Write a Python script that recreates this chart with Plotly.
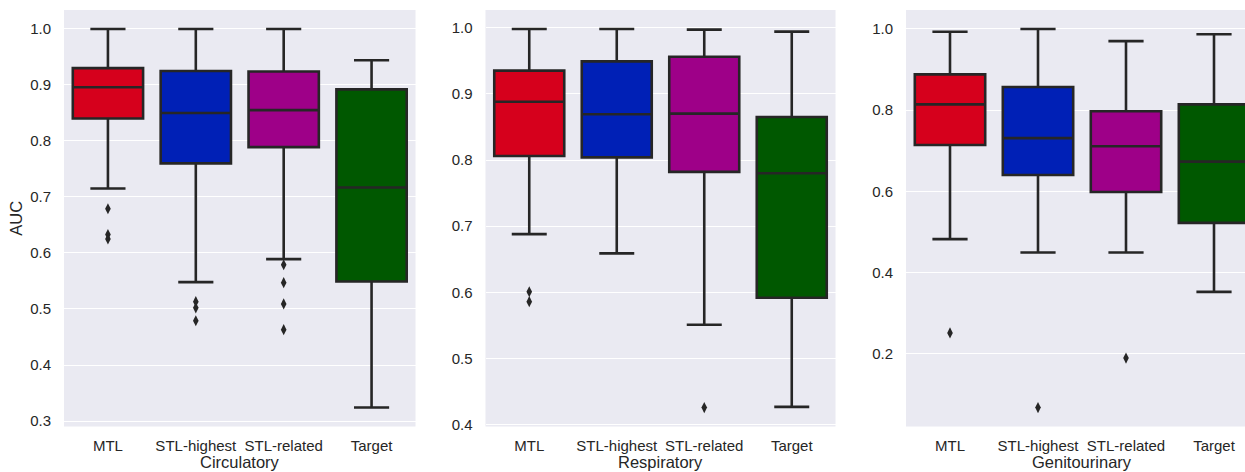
import plotly.graph_objects as go

# Model variants compared within each disease group
categories = ["MTL", "STL-highest", "STL-related", "Target"]
groups = ["Circulatory", "Respiratory", "Genitourinary"]
box_colors = ["#D6001C", "#0020B6", "#9E0088", "#005800"]

# Circulatory: box statistics and outliers (AUC)
circ_q1 = [0.840, 0.760, 0.789, 0.549]
circ_median = [0.896, 0.850, 0.855, 0.717]
circ_q3 = [0.930, 0.925, 0.924, 0.892]
circ_lower = [0.715, 0.548, 0.589, 0.324]
circ_upper = [1.000, 1.000, 1.000, 0.944]
circ_outliers = [[0.679, 0.633, 0.625], [0.513, 0.502, 0.479],
                 [0.579, 0.547, 0.509, 0.463], []]

# Respiratory
resp_q1 = [0.806, 0.804, 0.782, 0.592]
resp_median = [0.888, 0.869, 0.870, 0.780]
resp_q3 = [0.935, 0.949, 0.956, 0.865]
resp_lower = [0.688, 0.659, 0.551, 0.427]
resp_upper = [0.998, 0.998, 0.997, 0.994]
resp_outliers = [[0.601, 0.586], [], [0.426], []]

# Genitourinary
geni_q1 = [0.714, 0.640, 0.598, 0.522]
geni_median = [0.814, 0.731, 0.711, 0.673]
geni_q3 = [0.888, 0.857, 0.797, 0.814]
geni_lower = [0.482, 0.449, 0.449, 0.352]
geni_upper = [0.993, 1.000, 0.970, 0.987]
geni_outliers = [[0.251], [0.067], [0.189], []]

panel_stats = [
    (circ_q1, circ_median, circ_q3, circ_lower, circ_upper, circ_outliers),
    (resp_q1, resp_median, resp_q3, resp_lower, resp_upper, resp_outliers),
    (geni_q1, geni_median, geni_q3, geni_lower, geni_upper, geni_outliers),
]

W, H = 1245, 472
BG = "#EAEAF2"
INK = "#262626"
FONT = "Liberation Sans, Arial, sans-serif"

# subplot extents in pixels (the last panel runs past the right edge)
x_px = [(64, 415.5), (485.5, 835.5), (906, 1258)]
y_top_px, y_bot_px = 10, 426.5
y_dticks = [0.1, 0.1, 0.2]
title_top_px = 451

fig = go.Figure()

for p, (q1, med, q3, lo, hi, outs) in enumerate(panel_stats):
    xa = "x" if p == 0 else f"x{p + 1}"
    ya = "y" if p == 0 else f"y{p + 1}"
    for i, cat in enumerate(categories):
        fig.add_trace(go.Box(
            x=[i], q1=[q1[i]], median=[med[i]], q3=[q3[i]],
            lowerfence=[lo[i]], upperfence=[hi[i]],
            width=0.8, whiskerwidth=0.5, boxpoints=False,
            fillcolor=box_colors[i],
            line=dict(color=INK, width=2.6),
            xaxis=xa, yaxis=ya, showlegend=False, name=cat,
        ))
    ox, oy = [], []
    for i, vals in enumerate(outs):
        for v in vals:
            ox.append(i)
            oy.append(v)
    fig.add_trace(go.Scatter(
        x=ox, y=oy, mode="markers", xaxis=xa, yaxis=ya, showlegend=False,
        marker=dict(symbol="diamond-tall", size=8, color=INK, line=dict(width=0)),
    ))

layout = dict(
    width=W, height=H,
    margin=dict(l=0, r=0, t=0, b=0),
    paper_bgcolor="white",
    plot_bgcolor=BG,
    font=dict(family=FONT, color=INK, size=15),
)

annotations = []
for p in range(3):
    suffix = "" if p == 0 else str(p + 1)
    x0, x1 = x_px[p]
    # visible part of the panel; category slots keep a fixed pixel width
    x1_vis = min(x1, W)
    slot = (x1 - x0) / 4.0
    x_hi = -0.5 + (x1_vis - x0) / slot
    # seaborn-style 5% padding around the data extent
    vals = panel_stats[p][3] + panel_stats[p][4] + [v for o in panel_stats[p][5] for v in o]
    vmin, vmax = min(vals), max(vals)
    pad = 0.05 * (vmax - vmin)
    layout["xaxis" + suffix] = dict(
        domain=[x0 / W, x1_vis / W],
        range=[-0.5, x_hi],
        anchor="y" + suffix,
        tickmode="array", tickvals=list(range(4)), ticktext=categories,
        showgrid=False,
        zeroline=False, showline=False, ticks="",
        ticklabelstandoff=8,
        tickfont=dict(size=15, color=INK),
        automargin=False,
    )
    layout["yaxis" + suffix] = dict(
        domain=[1 - y_bot_px / H, 1 - y_top_px / H],
        range=[vmin - pad, vmax + pad],
        anchor="x" + suffix,
        dtick=y_dticks[p], tick0=0, tickformat=".1f",
        showgrid=True, gridcolor="white", gridwidth=1.3,
        zeroline=False, showline=False, ticks="",
        ticklabelstandoff=12,
        tickfont=dict(size=15, color=INK),
        automargin=False,
    )
    # group name centred under the full panel
    annotations.append(dict(
        text=groups[p], xref="paper", yref="paper",
        x=(x0 + x1) / 2 / W, y=1 - title_top_px / H,
        xanchor="center", yanchor="top", showarrow=False,
        font=dict(size=16.5, color=INK),
    ))

layout["yaxis"]["title"] = dict(text="AUC", font=dict(size=16.5, color=INK), standoff=3)
layout["annotations"] = annotations

fig.update_layout(**layout)
fig.write_html("out.html")
